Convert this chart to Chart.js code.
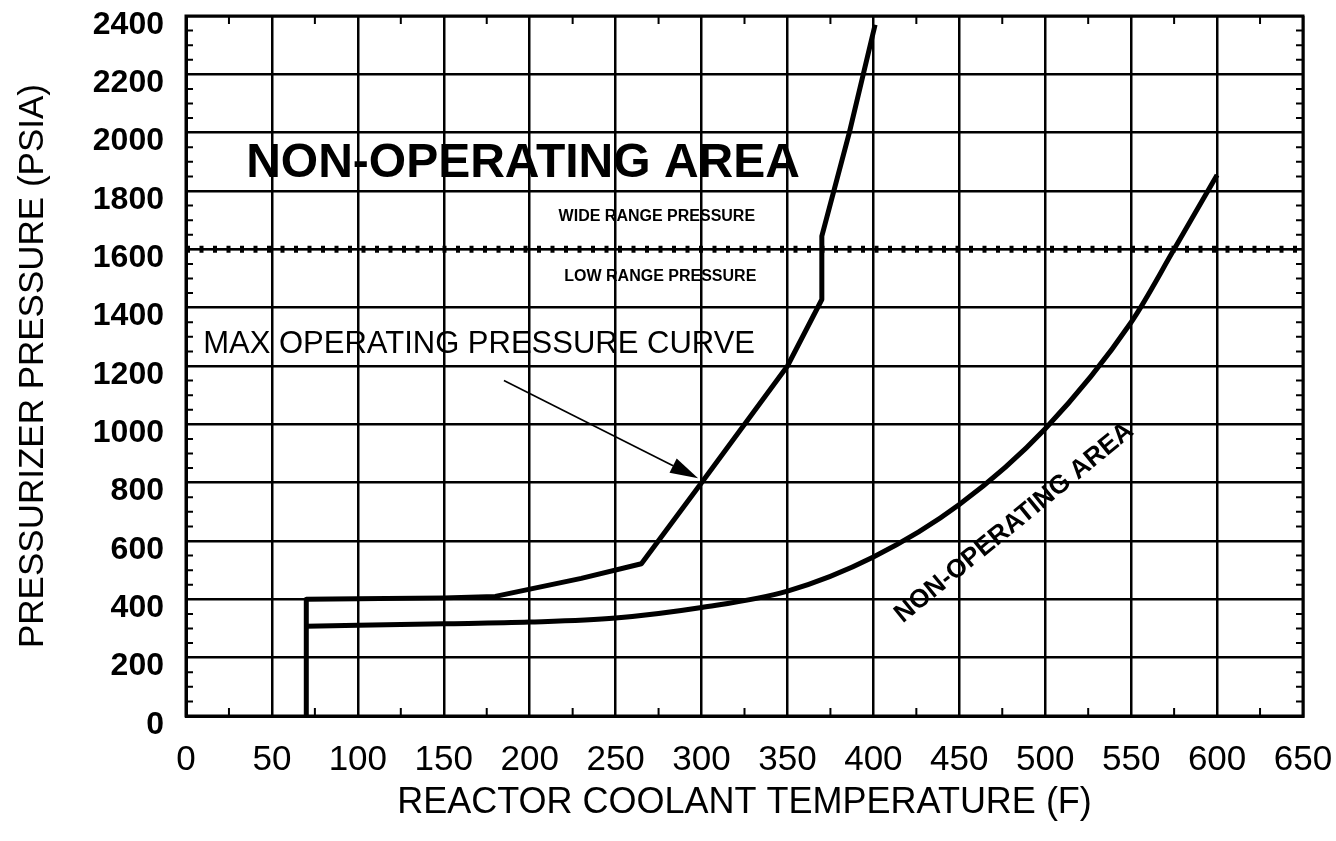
<!DOCTYPE html>
<html>
<head>
<meta charset="utf-8">
<title>Pressurizer Pressure vs Reactor Coolant Temperature</title>
<script src="https://cdn.jsdelivr.net/npm/chart.js@4.4.1/dist/chart.umd.min.js"></script>
<style>
    html, body { margin: 0; padding: 0; background: #fff; }
    #wrap { width: 1336px; height: 841px; }
</style>
</head>
<body>
<div id="wrap"><canvas id="ptChart" width="1336" height="841"></canvas></div>
<script>
// Max operating pressure curve (F, psia)
const maxCurveTemp = [70, 70, 100, 150, 180, 230, 265, 300, 350, 370, 370, 386, 401];
const maxCurvePress = [0, 400, 402, 405, 410, 472, 522, 800, 1200, 1428, 1645, 2000, 2370];

// Lower boundary curve (F, psia)
const lowCurveTemp = [70, 100, 150, 200, 250, 300, 350, 400, 450, 500, 550, 575, 600];
const lowCurvePress = [308, 311, 316, 322, 336, 372, 428, 545, 725, 985, 1350, 1600, 1855];

// Wide range / low range pressure boundary
const rangeLimitTemp = [0, 650];
const rangeLimitPress = [1600, 1600];

// Axis ranges / ticks
const tempMin = 0, tempMax = 650, tempStep = 50;
const pressMin = 0, pressMax = 2400, pressStep = 200;

// Text notes placed in data units
const notes = [
    { text: 'NON-OPERATING AREA', temp: 35, press: 1895, font: 'bold 48px "Liberation Sans", Arial, sans-serif', align: 'left', angle: 0 },
    { text: 'WIDE RANGE PRESSURE', temp: 274, press: 1712, font: 'bold 16px "Liberation Sans", Arial, sans-serif', align: 'center', angle: 0 },
    { text: 'LOW RANGE PRESSURE', temp: 276, press: 1508, font: 'bold 16px "Liberation Sans", Arial, sans-serif', align: 'center', angle: 0 },
    { text: 'MAX OPERATING PRESSURE CURVE', temp: 10, press: 1275, font: '31px "Liberation Sans", Arial, sans-serif', align: 'left', angle: 0 },
    { text: 'NON-OPERATING AREA', temp: 482, press: 662, font: 'bold 26px "Liberation Sans", Arial, sans-serif', align: 'center', angle: -39.3 }
];

// Arrow from the label to the curve
const arrowTemp = [185, 298];
const arrowPress = [1150, 815];

function toPoints(xs, ys) {
    return xs.map((x, i) => ({ x: x, y: ys[i] }));
}

// Draws the minor ticks, the frame, the notes and the arrow
const chartDecor = {
    id: 'chartDecor',
    afterDatasetsDraw(chart) {
        const { ctx, chartArea: a, scales: { x, y } } = chart;
        ctx.save();

        // minor ticks (inside the frame)
        ctx.strokeStyle = '#000';
        ctx.lineWidth = 2;
        ctx.beginPath();
        for (let v = tempMin + tempStep / 2; v < tempMax; v += tempStep) {
            const px = x.getPixelForValue(v);
            ctx.moveTo(px, a.bottom); ctx.lineTo(px, a.bottom - 8);
            ctx.moveTo(px, a.top); ctx.lineTo(px, a.top + 8);
        }
        for (let v = pressMin + 50; v < pressMax; v += 50) {
            if (v % pressStep === 0) continue;
            const py = y.getPixelForValue(v);
            ctx.moveTo(a.left, py); ctx.lineTo(a.left + 7, py);
            ctx.moveTo(a.right, py); ctx.lineTo(a.right - 7, py);
        }
        ctx.stroke();

        // frame
        ctx.lineWidth = 3;
        ctx.strokeRect(a.left, a.top, a.width, a.height);

        // notes
        ctx.fillStyle = '#000';
        ctx.textBaseline = 'middle';
        notes.forEach(n => {
            ctx.save();
            ctx.translate(x.getPixelForValue(n.temp), y.getPixelForValue(n.press));
            ctx.rotate(n.angle * Math.PI / 180);
            ctx.font = n.font;
            ctx.textAlign = n.align;
            ctx.fillText(n.text, 0, 0);
            ctx.restore();
        });

        // arrow
        const x0 = x.getPixelForValue(arrowTemp[0]), y0 = y.getPixelForValue(arrowPress[0]);
        const x1 = x.getPixelForValue(arrowTemp[1]), y1 = y.getPixelForValue(arrowPress[1]);
        const ang = Math.atan2(y1 - y0, x1 - x0);
        const headLen = 28, headHalf = 8;
        const bx = x1 - headLen * Math.cos(ang), by = y1 - headLen * Math.sin(ang);
        ctx.lineWidth = 1.6;
        ctx.beginPath();
        ctx.moveTo(x0, y0);
        ctx.lineTo(bx, by);
        ctx.stroke();
        ctx.beginPath();
        ctx.moveTo(x1, y1);
        ctx.lineTo(bx + headHalf * Math.sin(ang), by - headHalf * Math.cos(ang));
        ctx.lineTo(bx - headHalf * Math.sin(ang), by + headHalf * Math.cos(ang));
        ctx.closePath();
        ctx.fill();

        ctx.restore();
    }
};

const ctx = document.getElementById('ptChart').getContext('2d');
const ptChart = new Chart(ctx, {
    type: 'scatter',
    data: {
        datasets: [
            {
                label: 'Range boundary',
                data: toPoints(rangeLimitTemp, rangeLimitPress),
                showLine: true,
                borderColor: '#000',
                borderWidth: 2,
                pointRadius: 0
            },
            {
                label: 'Range boundary dots',
                data: toPoints(rangeLimitTemp, rangeLimitPress),
                showLine: true,
                borderColor: '#000',
                borderWidth: 7,
                borderDash: [4, 9.5],
                borderCapStyle: 'butt',
                pointRadius: 0
            },
            {
                label: 'Max operating pressure curve',
                data: toPoints(maxCurveTemp, maxCurvePress),
                showLine: true,
                borderColor: '#000',
                borderWidth: 5,
                borderJoinStyle: 'round',
                pointRadius: 0,
                tension: 0
            },
            {
                label: 'Lower boundary',
                data: toPoints(lowCurveTemp, lowCurvePress),
                showLine: true,
                borderColor: '#000',
                borderWidth: 5,
                pointRadius: 0,
                cubicInterpolationMode: 'monotone'
            }
        ]
    },
    options: {
        responsive: false,
        animation: false,
        layout: {
            padding: { top: 16, right: 33, left: 0, bottom: 0 }
        },
        plugins: {
            legend: { display: false },
            tooltip: { enabled: false }
        },
        scales: {
            x: {
                type: 'linear',
                min: tempMin,
                max: tempMax,
                afterFit: function(scale) {
                    scale.height = 125;
                    scale.paddingLeft = 0;
                    scale.paddingRight = 0;
                },
                ticks: {
                    stepSize: tempStep,
                    autoSkip: false,
                    maxRotation: 0,
                    padding: 23,
                    color: '#000',
                    font: { family: '"Liberation Sans", Arial, sans-serif', size: 35 }
                },
                grid: { color: '#000', lineWidth: 2.5, drawTicks: false },
                border: { color: '#000', width: 3 },
                title: {
                    display: true,
                    text: 'REACTOR COOLANT TEMPERATURE (F)',
                    color: '#000',
                    font: { family: '"Liberation Sans", Arial, sans-serif', size: 36 },
                    padding: { top: 0, bottom: 16 }
                }
            },
            y: {
                type: 'linear',
                min: pressMin,
                max: pressMax,
                afterFit: function(scale) {
                    scale.width = 186;
                    scale.paddingTop = 0;
                    scale.paddingBottom = 0;
                },
                ticks: {
                    stepSize: pressStep,
                    autoSkip: false,
                    padding: 22,
                    labelOffset: 9,
                    color: '#000',
                    font: { family: '"Liberation Sans", Arial, sans-serif', size: 32, weight: 'bold' },
                    callback: function(value) { return String(value); }
                },
                grid: { color: '#000', lineWidth: 2.5, drawTicks: false },
                border: { color: '#000', width: 3 },
                title: {
                    display: true,
                    text: 'PRESSURIZER PRESSURE (PSIA)',
                    color: '#000',
                    font: { family: '"Liberation Sans", Arial, sans-serif', size: 35 },
                    padding: { top: 12, bottom: 0 }
                }
            }
        }
    },
    plugins: [chartDecor]
});
</script>
</body>
</html>
